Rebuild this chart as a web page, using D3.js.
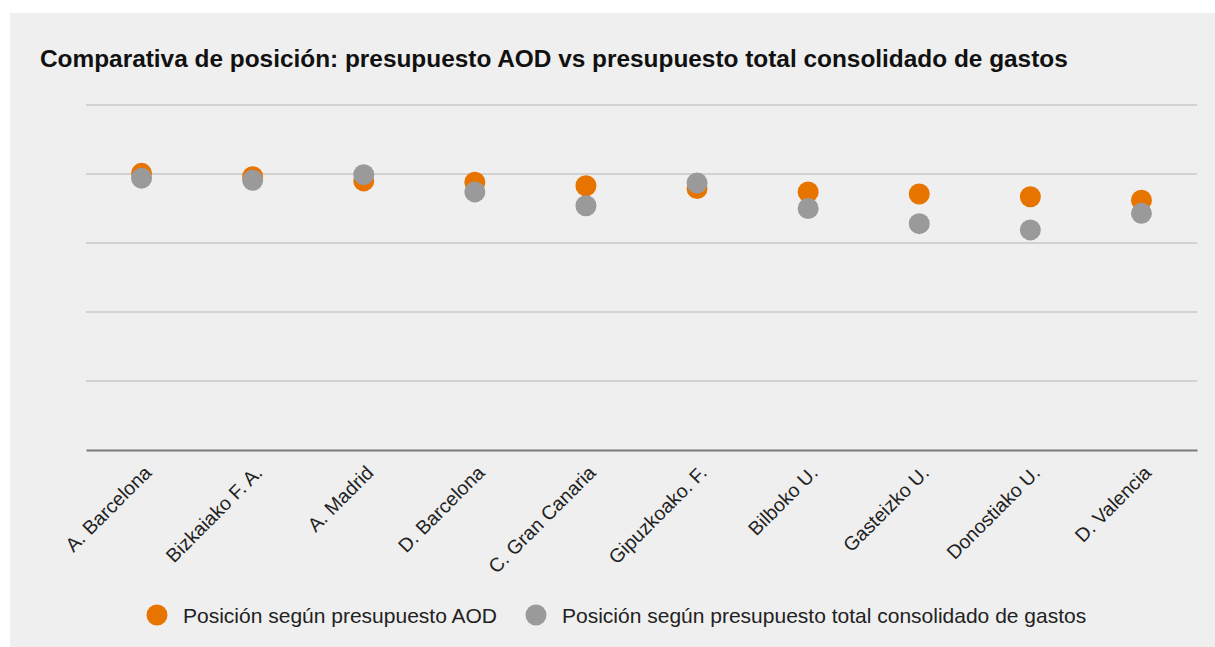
<!DOCTYPE html>
<html>
<head>
<meta charset="utf-8">
<script src="https://cdn.jsdelivr.net/npm/d3@7"></script>
<style>
  body { margin: 0; background: #fff; }
  svg { display: block; }
</style>
</head>
<body>
<svg id="chart" width="1215" height="647"></svg>
<script>
// data
const categories = ["A. Barcelona", "Bizkaiako F. A.", "A. Madrid", "D. Barcelona", "C. Gran Canaria",
  "Gipuzkoako. F.", "Bilboko U.", "Gasteizko U.", "Donostiako U.", "D. Valencia"];
const aodValues = [4.01, 3.96, 3.90, 3.88, 3.83, 3.79, 3.74, 3.71, 3.67, 3.62];
const totalValues = [3.94, 3.91, 3.99, 3.74, 3.54, 3.87, 3.50, 3.28, 3.19, 3.43];
const yTicks = [0, 1, 2, 3, 4, 5];
const seriesNames = ["Posición según presupuesto AOD", "Posición según presupuesto total consolidado de gastos"];
const colors = ["#e87400", "#9a9a9a"];

const svg = d3.select("#chart");
const font = "'Liberation Sans', Arial, sans-serif";

// panel
svg.append("rect").attr("x", 10).attr("y", 13).attr("width", 1205).attr("height", 634)
  .attr("fill", "#efefef");

svg.append("text")
  .attr("x", 40).attr("y", 67)
  .attr("font-family", font).attr("font-size", 24.4).attr("font-weight", "bold")
  .attr("fill", "#111")
  .text("Comparativa de posición: presupuesto AOD vs presupuesto total consolidado de gastos");

const x = d3.scaleBand().domain(categories).range([86, 1197]);
const y = d3.scaleLinear().domain([0, 5]).range([450, 105]);

// gridlines
svg.append("g").selectAll("line")
  .data(yTicks.filter(d => d > 0))
  .enter().append("line")
  .attr("x1", 86).attr("x2", 1197)
  .attr("y1", d => y(d)).attr("y2", d => y(d))
  .attr("stroke", "#c8c8c8").attr("stroke-width", 1.5);

// x axis baseline + labels
const xAxis = svg.append("g")
  .attr("transform", "translate(0," + y(0) + ")")
  .call(d3.axisBottom(x).tickSize(0).tickPadding(0));
xAxis.select(".domain").attr("stroke", "#7a7a7a").attr("stroke-width", 2);
xAxis.selectAll("text")
  .attr("font-family", font).attr("font-size", 19.5).attr("fill", "#222")
  .attr("text-anchor", "end")
  .attr("dy", 0)
  .attr("transform", "translate(11,24) rotate(-45)");

// points
const series = [aodValues, totalValues];
series.forEach(function (vals, s) {
  svg.append("g").selectAll("circle")
    .data(vals)
    .enter().append("circle")
    .attr("cx", (d, i) => x(categories[i]) + x.bandwidth() / 2)
    .attr("cy", d => y(d))
    .attr("r", 10.5)
    .attr("fill", colors[s]);
});

// legend
const legendX = [157, 536];
seriesNames.forEach(function (name, i) {
  const g = svg.append("g").attr("transform", "translate(" + legendX[i] + ",615)");
  g.append("circle").attr("r", 10.5).attr("fill", colors[i]);
  g.append("text").attr("x", 26).attr("y", 7.5)
    .attr("font-family", font).attr("font-size", 21).attr("fill", "#222")
    .text(name);
});
</script>
</body>
</html>
